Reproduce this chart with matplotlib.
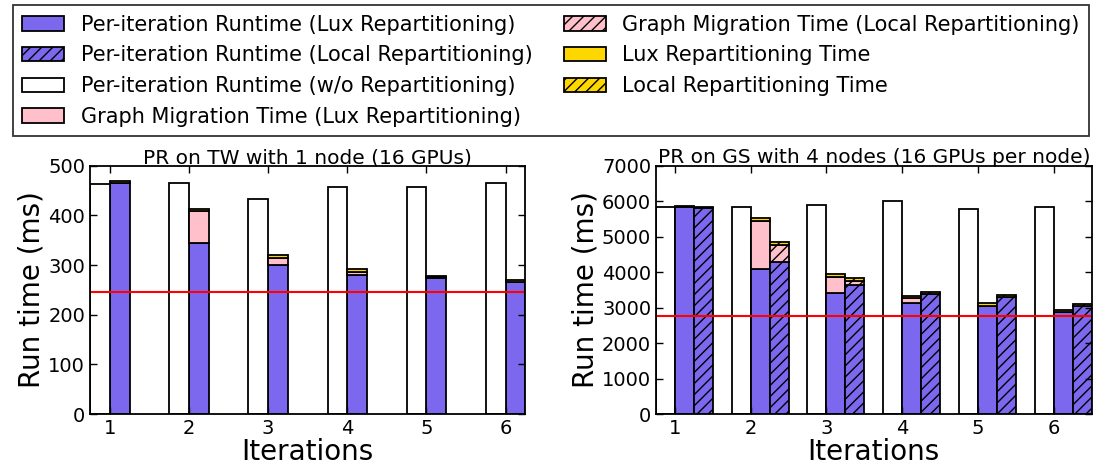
import numpy as np
import matplotlib
matplotlib.use('Agg')
import matplotlib.pyplot as plt

# %%
# iterations 1..6
iters = [1, 2, 3, 4, 5, 6]

# PR on TW, 1 node
tw_norep = [463, 465, 433, 458, 458, 465]
tw_lux_run = [465, 345, 301, 281, 273, 265]
tw_lux_mig = [0, 63, 14, 6, 2, 0]
tw_lux_rep = [4, 5, 6, 6, 4, 5]
tw_best = 245

# PR on GS, 4 nodes
gs_norep = [5833, 5833, 5908, 6000, 5787, 5833]
gs_lux_run = [5833, 4088, 3425, 3127, 3033, 2865]
gs_lux_mig = [0, 1344, 448, 140, 0, 0]
gs_lux_rep = [20, 90, 75, 74, 90, 75]
gs_loc_run = [5805, 4293, 3640, 3388, 3313, 3033]
gs_loc_mig = [0, 486, 112, 0, 0, 0]
gs_loc_rep = [30, 75, 75, 46, 47, 66]
gs_best = 2750

labels = ['Per-iteration Runtime (Lux Repartitioning)',
          'Per-iteration Runtime (Local Repartitioning)',
          'Per-iteration Runtime (w/o Repartitioning)',
          'Graph Migration Time (Lux Repartitioning)',
          'Graph Migration Time (Local Repartitioning)',
          'Lux Repartitioning Time',
          'Local Repartitioning Time']

blue = '#7B68EE'
pink = '#FFC0CB'
gold = '#FFD700'
w = 0.25
lw = 1.3
plt.rcParams['hatch.linewidth'] = 1.0


def style_axes(ax, ymax, step, title):
    ax.set_ylim(0, ymax)
    ax.set_yticks(np.arange(0, ymax + 1, step))
    ax.set_xticks(iters)
    ax.tick_params(direction='in', top=True, right=True, labelsize=14, length=5, width=1)
    for s in ax.spines.values():
        s.set_linewidth(1.3)
    ax.set_xlabel('Iterations', fontsize=20, labelpad=0)
    ax.set_ylabel('Run time (ms)', fontsize=20, labelpad=2)
    ax.set_title(title, fontsize=14.5, pad=2)


# %%
fig = plt.figure(figsize=(10.97, 4.71), dpi=100)
ax1 = fig.add_axes([0.082, 0.121, 0.397, 0.527])
ax2 = fig.add_axes([0.598, 0.121, 0.397, 0.527])

x = np.array(iters)

# left chart
b_lux = ax1.bar(x, tw_lux_run, w, align='edge', color=blue, edgecolor='k', lw=lw)
b_none = ax1.bar(x - w, tw_norep, w, align='edge', color='white', edgecolor='k', lw=lw)
b_mig = ax1.bar(x, tw_lux_mig, w, bottom=tw_lux_run, align='edge', color=pink,
                edgecolor='k', lw=lw)
b_rep = ax1.bar(x, tw_lux_rep, w, bottom=np.add(tw_lux_run, tw_lux_mig), align='edge',
                color=gold, edgecolor='k', lw=lw)
ax1.axhline(tw_best, color='r', lw=1.5)
ax1.set_xlim(0.75, 6.25)
style_axes(ax1, 500, 100, 'PR on TW with 1 node (16 GPUs)')

# right chart
ax2.bar(x - w, gs_norep, w, align='edge', color='white', edgecolor='k', lw=lw)
ax2.bar(x, gs_lux_run, w, align='edge', color=blue, edgecolor='k', lw=lw)
ax2.bar(x, gs_lux_mig, w, bottom=gs_lux_run, align='edge', color=pink, edgecolor='k', lw=lw)
ax2.bar(x, gs_lux_rep, w, bottom=np.add(gs_lux_run, gs_lux_mig), align='edge',
        color=gold, edgecolor='k', lw=lw)
b_loc = ax2.bar(x + w, gs_loc_run, w, align='edge', color=blue, edgecolor='k', lw=lw,
                hatch='///')
b_lmig = ax2.bar(x + w, gs_loc_mig, w, bottom=gs_loc_run, align='edge', color=pink,
                 edgecolor='k', lw=lw, hatch='///')
b_lrep = ax2.bar(x + w, gs_loc_rep, w, bottom=np.add(gs_loc_run, gs_loc_mig), align='edge',
                 color=gold, edgecolor='k', lw=lw, hatch='///')
ax2.axhline(gs_best, color='r', lw=1.5)
ax2.set_xlim(0.75, 6.5)
style_axes(ax2, 7000, 1000, 'PR on GS with 4 nodes (16 GPUs per node)')

handles = [b_lux, b_loc, b_none, b_mig, b_lmig, b_rep, b_lrep]
leg = fig.legend(handles, labels, ncol=2, loc='upper left', mode='expand',
                 bbox_to_anchor=(0.0119, 0.0, 0.981, 0.989), borderaxespad=0,
                 fontsize=15, labelspacing=0.52, handlelength=2.0, handletextpad=0.8,
                 fancybox=False, edgecolor='k', borderpad=0.45)
leg.get_frame().set_linewidth(1.3)

fig.savefig('out.png', dpi=100)
